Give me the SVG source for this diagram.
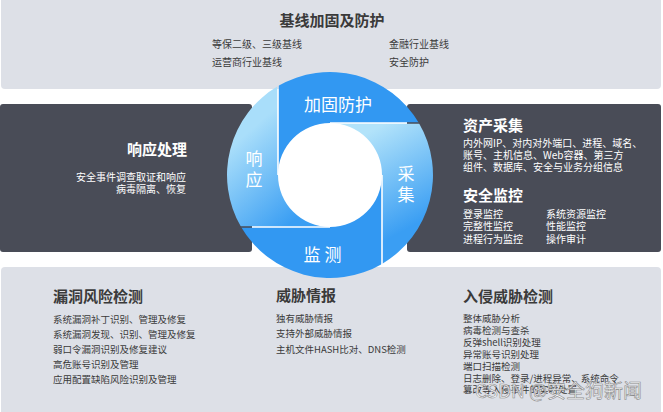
<svg xmlns="http://www.w3.org/2000/svg" width="663" height="412" viewBox="0 0 663 412">
<style>
text{font-family:"Noto Sans CJK SC","Noto Sans",sans-serif;dominant-baseline:central}
.band{fill:#dde0e7}
.panel{fill:#494c57}
.h{font-size:15px;font-weight:bold;fill:#3a3a3a}
.hw{font-size:15px;font-weight:bold;fill:#ffffff}
.t{font-size:10px;fill:#3a3a3a}
.tb{font-size:9.5px;fill:#3a3a3a}
.tw{font-size:10px;fill:#ffffff}
.ring{font-size:17px;fill:#ffffff}
</style>
<defs>
<linearGradient id="gR" gradientUnits="userSpaceOnUse" x1="382" y1="125" x2="432" y2="215">
<stop offset="0" stop-color="#b2e3fa"/><stop offset="1" stop-color="#3a9ef3"/>
</linearGradient>
<linearGradient id="gL" gradientUnits="userSpaceOnUse" x1="228" y1="150" x2="292" y2="222">
<stop offset="0" stop-color="#a9defa"/><stop offset="1" stop-color="#3a9ef3"/>
</linearGradient>
<mask id="gaps" maskUnits="userSpaceOnUse" x="0" y="0" width="663" height="412">
<rect x="0" y="0" width="663" height="412" fill="#fff"/>
<g stroke="#000" stroke-width="1.6">
<line x1="278" y1="70" x2="278" y2="175"/>
<line x1="330" y1="123" x2="440" y2="123"/>
<line x1="382" y1="175" x2="382" y2="280"/>
<line x1="220" y1="227" x2="330" y2="227"/>
</g>
</mask>
</defs>
<rect width="663" height="412" fill="#ffffff"/>
<g id="top-band">
<rect class="band" x="1" y="-5" width="660" height="94" rx="4"/>
<text class="h" x="332" y="19" text-anchor="middle">基线加固及防护</text>
<text class="t" x="212" y="43">等保二级、三级基线</text>
<text class="t" x="212" y="61">运营商行业基线</text>
<text class="t" x="389" y="43">金融行业基线</text>
<text class="t" x="389" y="61">安全防护</text>
</g>
<g id="bottom-band">
<rect class="band" x="1" y="267" width="660" height="150" rx="4"/>
</g>
<g id="left-panel">
<rect class="panel" x="0" y="104" width="252" height="148" rx="3"/>
<text class="hw" x="187" y="148" text-anchor="end">响应处理</text>
<text class="tw" x="186" y="176" text-anchor="end">安全事件调查取证和响应</text>
<text class="tw" x="186" y="188" text-anchor="end">病毒隔离、恢复</text>
</g>
<g id="right-panel">
<rect class="panel" x="407" y="104" width="254" height="148" rx="3"/>
<text class="hw" x="463" y="124">资产采集</text>
<text class="tw" x="463" y="142">内外网IP、对内对外端口、进程、域名、</text>
<text class="tw" x="463" y="154.5">账号、主机信息、Web容器、第三方</text>
<text class="tw" x="463" y="166.5">组件、数据库、安全与业务分组信息</text>
<text class="hw" x="463" y="194">安全监控</text>
<text class="tw" x="463" y="213">登录监控</text>
<text class="tw" x="463" y="225.5">完整性监控</text>
<text class="tw" x="463" y="238">进程行为监控</text>
<text class="tw" x="546" y="213">系统资源监控</text>
<text class="tw" x="546" y="225.5">性能监控</text>
<text class="tw" x="546" y="238">操作审计</text>
</g>
<g id="ring" mask="url(#gaps)">
<path id="seg-top" fill="#3298f2" d="M278 86.1A103 103 0 0 1 418.9 123L330 123A52 52 0 0 0 278 175Z"/>
<path id="seg-right" fill="url(#gR)" d="M418.9 123A103 103 0 0 1 382 263.9L382 175A52 52 0 0 0 330 123Z"/>
<path id="seg-bottom" fill="#3298f2" d="M382 263.9A103 103 0 0 1 241.1 227L330 227A52 52 0 0 0 382 175Z"/>
<path id="seg-left" fill="url(#gL)" d="M241.1 227A103 103 0 0 1 278 86.1L278 175A52 52 0 0 0 330 227Z"/>
</g>
<g id="ring-labels">
<text class="ring" x="338" y="103" text-anchor="middle">加固防护</text>
<text class="ring" x="254" y="157" text-anchor="middle">响</text>
<text class="ring" x="254" y="178" text-anchor="middle">应</text>
<text class="ring" x="406" y="172" text-anchor="middle">采</text>
<text class="ring" x="406" y="193" text-anchor="middle">集</text>
<text class="ring" x="322.5" y="253" text-anchor="middle">监 测</text>
</g>
<g id="vuln">
<text class="h" x="53" y="295">漏洞风险检测</text>
<text class="tb" x="53" y="319">系统漏洞补丁识别、管理及修复</text>
<text class="tb" x="53" y="334">系统漏洞发现、识别、管理及修复</text>
<text class="tb" x="53" y="349">弱口令漏洞识别及修复建议</text>
<text class="tb" x="53" y="364">高危账号识别及管理</text>
<text class="tb" x="53" y="379">应用配置缺陷风险识别及管理</text>
</g>
<g id="intel">
<text class="h" x="276" y="294">威胁情报</text>
<text class="tb" x="276" y="318">独有威胁情报</text>
<text class="tb" x="276" y="333">支持外部威胁情报</text>
<text class="tb" x="276" y="349">主机文件HASH比对、DNS检测</text>
</g>
<g id="intrusion">
<text class="h" x="463" y="295">入侵威胁检测</text>
<text class="tb" x="463" y="318">整体威胁分析</text>
<text class="tb" x="463" y="330">病毒检测与查杀</text>
<text class="tb" x="463" y="342">反弹shell识别处理</text>
<text class="tb" x="463" y="354">异常账号识别处理</text>
<text class="tb" x="463" y="366">端口扫描检测</text>
<text class="tb" x="463" y="378">日志删除、登录/进程异常、系统命令</text>
<text class="tb" x="463" y="389">篡改等入侵事件的实时处置</text>
</g>
<g id="watermark">
<text x="475" y="389" style="font-size:19px;fill:#ffffff;fill-opacity:0.75;stroke:#8a8a8a;stroke-width:0.6">CSDN @安全狗新闻</text>
</g>
</svg>
